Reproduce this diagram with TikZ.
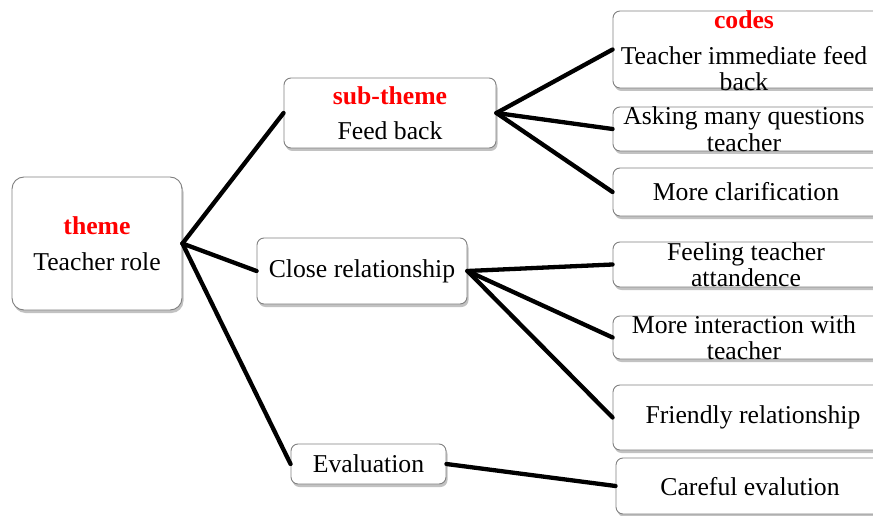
\documentclass[tikz,border=0pt]{standalone}
\usepackage{fontspec}
\setmainfont{Liberation Serif}
\usetikzlibrary{shadows}
\newcommand{\dfs}{\fontsize{25.7}{26.5}\selectfont}
\begin{document}
\begin{tikzpicture}[x=1pt,y=-1pt,
  box/.style={draw=black!50, line width=0.9pt, rounded corners=7pt, fill=white,
    drop shadow={shadow xshift=1.5pt, shadow yshift=-3pt, fill=black!40, opacity=0.6}},
  lbl/.style={align=center, font=\dfs, inner sep=0pt, text=black},
  link/.style={line width=4.3pt, line cap=round}]
\useasboundingbox (0,0) rectangle (873,516);
\begin{scope}
\clip (0,0) rectangle (873,516);
% boxes
\node[box, rounded corners=12pt, minimum width=170pt, minimum height=133pt] (theme) at (97,243.5) {};
\node[box, minimum width=212pt, minimum height=70pt] (fb) at (390,113) {};
\node[box, minimum width=210pt, minimum height=66pt] (cr) at (362,271) {};
\node[box, minimum width=155pt, minimum height=40pt] (ev) at (368.5,464) {};
\node[box, minimum width=280pt, minimum height=77pt] (c1) at (753,49.5) {};
\node[box, minimum width=280pt, minimum height=44pt] (c2) at (753,129) {};
\node[box, minimum width=280pt, minimum height=48pt] (c3) at (753,192) {};
\node[box, minimum width=280pt, minimum height=45pt] (c4) at (753,264.5) {};
\node[box, minimum width=280pt, minimum height=43pt] (c5) at (753,337.5) {};
\node[box, minimum width=280pt, minimum height=65pt] (c6) at (753,417.5) {};
\node[box, minimum width=277pt, minimum height=56pt] (c7) at (754.5,486) {};
% connectors
\draw[link] (theme.east) -- (fb.west);
\draw[link] (theme.east) -- (cr.west);
\draw[link] (theme.east) -- (ev.west);
\draw[link] (fb.east) -- (c1.west);
\draw[link] (fb.east) -- (c2.west);
\draw[link] (fb.east) -- (c3.west);
\draw[link] (cr.east) -- (c4.west);
\draw[link] (cr.east) -- (c5.west);
\draw[link] (cr.east) -- (c6.west);
\draw[link] (ev.east) -- (c7.west);
% texts
\node[lbl] (t0) at (97,243.5) {{\color{red}\bfseries theme}\\[9pt]Teacher role};
\node[lbl] (t1) at (390,113) {{\color{red}\bfseries sub-theme}\\[9pt]Feed back};
\node[lbl] (t2) at (362,271) {Close relationship};
\node[lbl] (t3) at (368.5,464) {Evaluation};
\node[lbl] (t4) at (744,51) {{\color{red}\bfseries codes}\\[9pt]Teacher immediate feed\\back};
\node[lbl] (t5) at (744,129) {Asking many questions\\teacher};
\node[lbl] (t6) at (746,192) {More clarification};
\node[lbl] (t7) at (746,264.5) {Feeling teacher\\attandence};
\node[lbl] (t8) at (744,337.5) {More interaction with\\teacher};
\node[lbl] (t9) at (753,417.5) {Friendly relationship};
\node[lbl] (t10) at (750,487) {Careful evalution};
\end{scope}
\end{tikzpicture}
\end{document}
